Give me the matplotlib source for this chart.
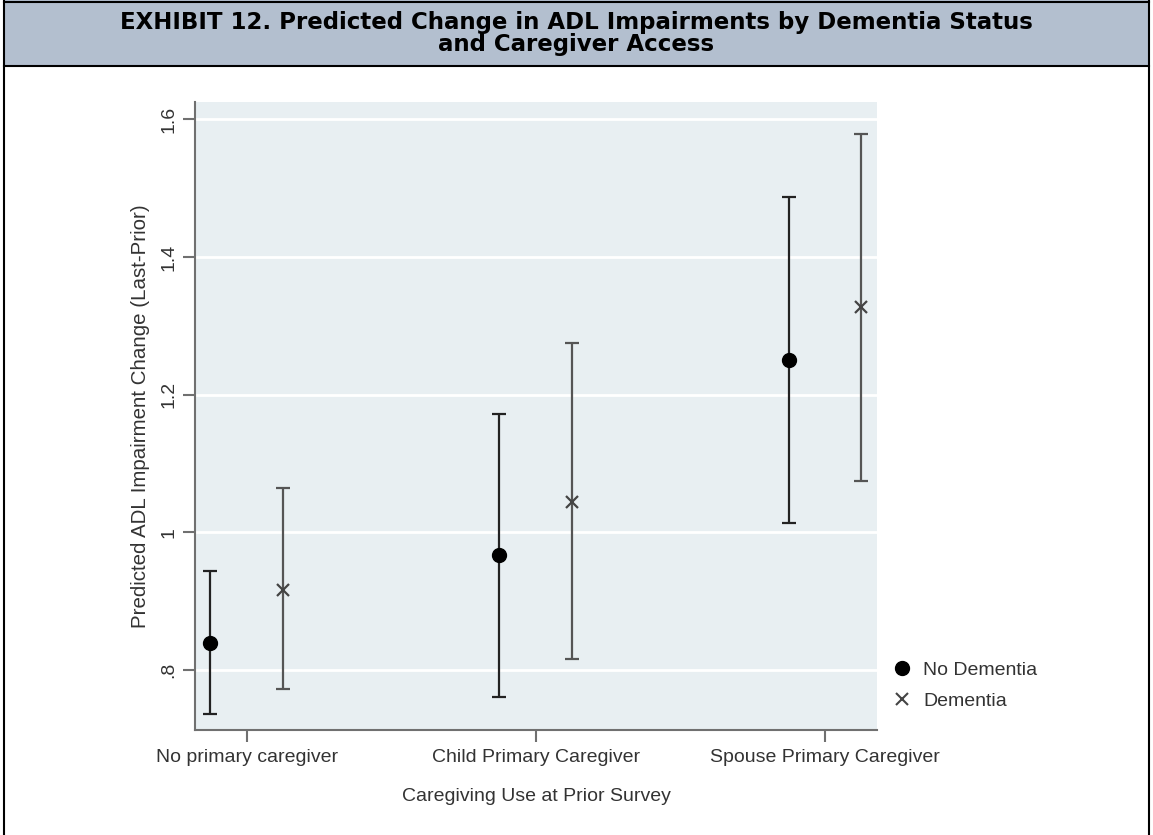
import numpy as np
import matplotlib
matplotlib.use("Agg")
import matplotlib.pyplot as plt
from matplotlib.patches import Rectangle
from matplotlib.lines import Line2D

plt.rcParams['font.family'] = ['Liberation Sans', 'DejaVu Sans']

groups = ["No primary caregiver", "Child Primary Caregiver", "Spouse Primary Caregiver"]
no_dem = np.array([0.840, 0.967, 1.250])
no_dem_lo = np.array([0.736, 0.761, 1.013])
no_dem_hi = np.array([0.944, 1.172, 1.487])
dem = np.array([0.916, 1.044, 1.327])
dem_lo = np.array([0.772, 0.816, 1.075])
dem_hi = np.array([1.064, 1.275, 1.579])
yticks = [0.8, 1.0, 1.2, 1.4, 1.6]
ytick_labels = [".8", "1", "1.2", "1.4", "1.6"]
series_labels = ["No Dementia", "Dementia"]

W, H = 1153, 835
fig = plt.figure(figsize=(W / 100, H / 100), dpi=100)

# title bar with frame lines
bar_h = 66
fig.add_artist(Rectangle((4 / W, 1 - bar_h / H), 1145 / W, bar_h / H,
                         transform=fig.transFigure, facecolor='#b3bfcf',
                         edgecolor='none', zorder=0))
for xx in [4 / W, 1149 / W]:
    fig.add_artist(Line2D([xx, xx], [0, 1], transform=fig.transFigure,
                          color='black', lw=1.5))
for yy in [1 - 1.5 / H, 1 - bar_h / H]:
    fig.add_artist(Line2D([4 / W, 1149 / W], [yy, yy], transform=fig.transFigure,
                          color='black', lw=1.5))
fig.text(0.5, 1 - 29 / H, "EXHIBIT 12. Predicted Change in ADL Impairments by Dementia Status",
         ha='center', va='baseline', fontsize=16.5, fontweight='bold', family='DejaVu Sans')
fig.text(0.5, 1 - 51 / H, "and Caregiver Access",
         ha='center', va='baseline', fontsize=16.5, fontweight='bold', family='DejaVu Sans')

# plot area
ax = fig.add_axes([195 / W, 1 - 730 / H, (877 - 195) / W, (730 - 102) / H])
ax.set_facecolor('#e8eff2')

x = np.arange(1, len(groups) + 1)
off = 0.126

ax.errorbar(x - off, no_dem, yerr=[no_dem - no_dem_lo, no_dem_hi - no_dem],
            fmt='o', color='black', ecolor='#222222', elinewidth=1.6,
            capsize=4.7, capthick=1.6, markersize=10, zorder=3)
ax.errorbar(x + off, dem, yerr=[dem - dem_lo, dem_hi - dem],
            fmt='x', color='#444444', ecolor='#555555', elinewidth=1.6,
            capsize=4.7, capthick=1.6, markersize=9, markeredgewidth=1.6, zorder=3)

ax.set_xlim(0.821, 3.18)
ax.set_ylim(0.713, 1.625)
ax.set_xticks(x)
ax.set_xticklabels(groups, fontsize=14, color='#333333')
ax.set_yticks(yticks)
ax.set_yticklabels(ytick_labels, fontsize=14, color='#333333', rotation=90, va='center')

ax.yaxis.grid(True, color='white', linewidth=2)
ax.set_axisbelow(True)
for s in ['top', 'right']:
    ax.spines[s].set_visible(False)
for s in ['left', 'bottom']:
    ax.spines[s].set_color('#707070')
    ax.spines[s].set_linewidth(1.5)
ax.tick_params(axis='both', direction='out', length=8.5, width=1.5, color='#707070')
ax.tick_params(axis='y', pad=4)
ax.tick_params(axis='x', pad=5)

ax.set_xlabel("Caregiving Use at Prior Survey", fontsize=14, color='#333333', labelpad=16)
ax.set_ylabel("Predicted ADL Impairment Change (Last-Prior)", fontsize=14.8,
              color='#333333', labelpad=8)

handles = [Line2D([], [], marker='o', color='black', linestyle='none', markersize=10),
           Line2D([], [], marker='x', color='#444444', linestyle='none', markersize=9,
                  markeredgewidth=1.5)]
fig.legend(handles, series_labels, loc='upper left', bbox_to_anchor=(892 / W, 1 - 661 / H),
           frameon=False, fontsize=14, handlelength=1.0, handletextpad=0.6,
           borderpad=0, borderaxespad=0, labelspacing=0.72, labelcolor='#333333')

fig.savefig("out.png", dpi=100)
